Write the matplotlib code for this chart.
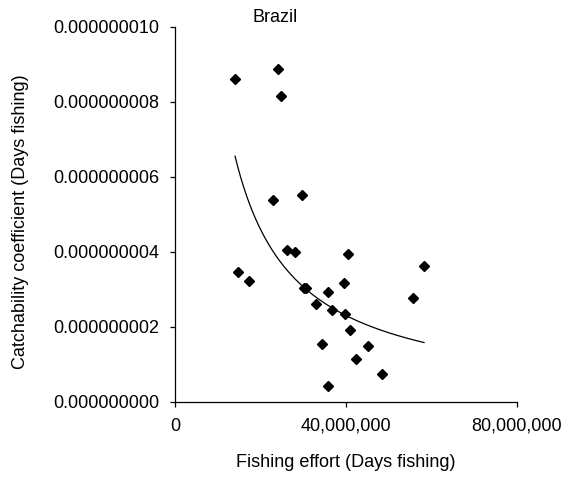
import matplotlib.pyplot as plt
import numpy as np
from matplotlib.ticker import FuncFormatter

plt.rcParams['font.family'] = ['Liberation Sans', 'DejaVu Sans']

# fishing effort (days fishing) and catchability coefficient
effort = [14.05e6, 24.0e6, 24.8e6, 22.9e6, 29.8e6, 26.3e6, 28.1e6, 40.4e6, 58.3e6,
          14.7e6, 17.3e6, 30.1e6, 30.7e6, 35.9e6, 39.6e6, 55.7e6, 32.9e6, 36.8e6,
          39.7e6, 40.9e6, 34.4e6, 45.2e6, 42.3e6, 48.4e6, 35.9e6]
catchability = [8.60e-9, 8.86e-9, 8.16e-9, 5.38e-9, 5.51e-9, 4.05e-9, 3.98e-9, 3.95e-9, 3.62e-9,
                3.45e-9, 3.22e-9, 3.02e-9, 3.02e-9, 2.92e-9, 3.16e-9, 2.77e-9, 2.60e-9, 2.45e-9,
                2.33e-9, 1.92e-9, 1.53e-9, 1.49e-9, 1.13e-9, 0.73e-9, 0.43e-9]

# power trendline as drawn (y = a * x^b)
trend_a = 0.092
trend_b = -1.0

fig = plt.figure(figsize=(5.69, 4.83), dpi=100)
ax = fig.add_axes([0.3076, 0.1683, 0.6005, 0.7764])

ax.plot(effort, catchability, linestyle='none', marker='D', color='black', markersize=4.8)

xs = np.linspace(min(effort), max(effort), 200)
ax.plot(xs, trend_a * xs ** trend_b, color='black', linewidth=0.9)

ax.set_xlim(0, 80e6)
ax.set_ylim(0, 1e-8)
ax.set_xticks([0, 40e6, 80e6])
ax.set_yticks(np.arange(0, 1.01e-8, 2e-9))
ax.xaxis.set_major_formatter(FuncFormatter(lambda v, p: f'{v:,.0f}'))
ax.yaxis.set_major_formatter(FuncFormatter(lambda v, p: f'{v:.9f}'))
ax.tick_params(labelsize=13, length=3.6, width=0.9, direction='out', pad=8)
for s in ['top', 'right']:
    ax.spines[s].set_visible(False)
for s in ['left', 'bottom']:
    ax.spines[s].set_linewidth(0.9)

ax.set_xlabel('Fishing effort (Days fishing)', fontsize=13, va='center')
ax.xaxis.set_label_coords(0.5, -0.163)
ax.set_ylabel('Catchability coefficient (Days fishing)', fontsize=13, va='center')
ax.yaxis.set_label_coords(-0.452, 0.48)
fig.text(0.483, 0.963, 'Brazil', fontsize=13, ha='center', va='center')

fig.savefig('out.png', dpi=100)
